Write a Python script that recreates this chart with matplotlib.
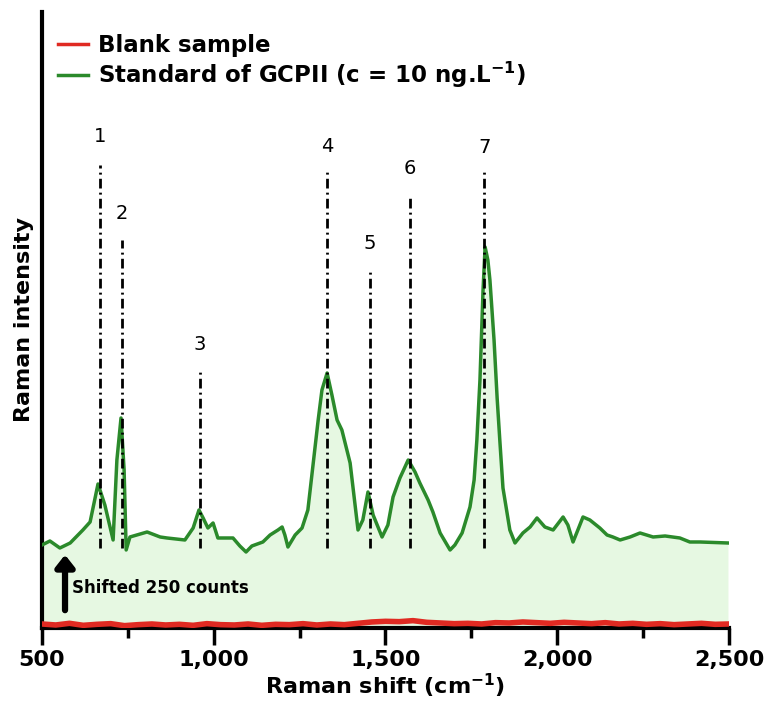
import numpy as np
import matplotlib
matplotlib.use("Agg")
import matplotlib.pyplot as plt
from matplotlib.ticker import FuncFormatter, MultipleLocator

# --------------------------------------------------------------------------- #
#  Data                                               #
# --------------------------------------------------------------------------- #

shift_std = [500, 523, 552, 582, 619, 640, 663, 683, 707, 718, 730, 739, 745,
             756, 806, 844, 864, 916, 940, 957, 969, 983, 998, 1012, 1056,
             1076, 1094, 1111, 1143, 1164, 1187, 1199, 1207, 1216, 1237, 1257,
             1274, 1289, 1304, 1315, 1330, 1344, 1359, 1373, 1397, 1420, 1434,
             1449, 1464, 1490, 1507, 1522, 1542, 1566, 1586, 1600, 1624, 1638,
             1659, 1688, 1702, 1723, 1746, 1758, 1766, 1775, 1784, 1790, 1798,
             1804, 1816, 1825, 1833, 1842, 1862, 1877, 1900, 1921, 1941, 1964,
             1988, 2017, 2031, 2046, 2060, 2075, 2095, 2124, 2145, 2162, 2183,
             2212, 2241, 2279, 2314, 2357, 2386, 2416, 2497]
counts_std = [249, 261, 240, 255, 294, 318, 432, 369, 264, 504, 630, 474, 234,
              273, 288, 273, 270, 264, 300, 354, 330, 300, 315, 270, 270,
              246, 228, 246, 258, 279, 294, 303, 279, 243, 279, 300,
              354, 489, 624, 714, 765, 699, 624, 594, 495, 294, 324,
              408, 339, 273, 309, 393, 450, 504, 468, 435, 384, 348,
              285, 234, 249, 285, 363, 444, 564, 744, 1014, 1143, 1104,
              1044, 864, 690, 560, 420, 294, 255, 285, 303, 330, 303,
              294, 333, 309, 258, 294, 333, 324, 300, 279, 273, 264,
              273, 285, 273, 276, 270, 258, 258, 255]

shift_blank = list(range(500, 2501, 40))
counts_blank = [12, 9, 14, 8, 11, 13, 7, 10, 12, 9, 11, 8, 13, 10, 9, 12,
                8, 11, 10, 13, 9, 12, 10, 14, 18, 20, 19, 22, 17, 15, 13, 14,
                12, 16, 15, 18, 16, 14, 17, 15, 13, 16, 12, 14, 11, 13, 10,
                12, 14, 11, 12]

peak_ids = ["1", "2", "3", "4", "5", "6", "7"]
peak_pos = [669, 733, 960, 1330, 1455, 1571, 1787]
peak_top = [1389, 1164, 768, 1368, 1074, 1293, 1380]
peak_lbl_y = [1473, 1242, 849, 1443, 1152, 1377, 1440]
line_bottom = 240

GREEN = "#2b8a2b"
RED = "#e02a22"
FILL = "#e6f8e2"

# --------------------------------------------------------------------------- #
#  Figure                                                                      #
# --------------------------------------------------------------------------- #

fig = plt.figure(figsize=(7.68, 7.06), dpi=100)
ax = fig.add_axes([0.0547, 0.1105, 0.8945, 0.8725])

ax.fill_between(shift_std, counts_std, 0, color=FILL, lw=0, zorder=1)
ax.plot(shift_blank, counts_blank, color=RED, lw=4, label="Blank sample",
        zorder=3)
ax.plot(shift_std, counts_std, color=GREEN, lw=2.5,
        label=r"Standard of GCPII (c = 10 ng.L$^{\mathbf{-1}}$)", zorder=3)

for pid, xp, top, ly in zip(peak_ids, peak_pos, peak_top, peak_lbl_y):
    ax.plot([xp, xp], [line_bottom, top], color="black", lw=2,
            ls=(0, (3.5, 1.5, 0.7, 1.5)), zorder=4)
    ax.text(xp, ly, pid, ha="center", va="center", fontsize=14, zorder=5)

ax.annotate("", xy=(567, 228), xytext=(567, 45),
            arrowprops=dict(arrowstyle="-|>,head_width=0.55,head_length=0.7",
                            color="black", lw=4.5), zorder=5)
ax.text(587, 120, "Shifted 250 counts", fontsize=12, fontweight="bold",
        va="center", ha="left", zorder=5)

ax.set_xlim(500, 2500)
ax.set_ylim(0, 1848)
ax.xaxis.set_major_locator(MultipleLocator(500))
ax.xaxis.set_minor_locator(MultipleLocator(250))
ax.xaxis.set_major_formatter(FuncFormatter(lambda v, _: f"{int(v):,}"))
ax.set_yticks([])

for s in ("top", "right"):
    ax.spines[s].set_visible(False)
for s in ("left", "bottom"):
    ax.spines[s].set_linewidth(3)

ax.tick_params(axis="x", which="major", length=12, width=2.5, direction="out",
               labelsize=16, pad=4)
ax.tick_params(axis="x", which="minor", length=7, width=2.5, direction="out")
for lab in ax.get_xticklabels():
    lab.set_fontweight("bold")

ax.set_xlabel(r"Raman shift (cm$^{\mathbf{-1}}$)", fontsize=16,
              fontweight="bold", labelpad=1)
ax.set_ylabel("Raman intensity", fontsize=16, fontweight="bold", labelpad=6)

leg = ax.legend(loc="upper left", bbox_to_anchor=(0.0, 0.99), frameon=False,
                handlelength=1.3, handletextpad=0.45, labelspacing=0.1,
                prop=dict(size=16.5, weight="bold"), borderaxespad=0.3)
for h in leg.get_lines():
    h.set_linewidth(2.5)

fig.savefig("out.png", dpi=100)
